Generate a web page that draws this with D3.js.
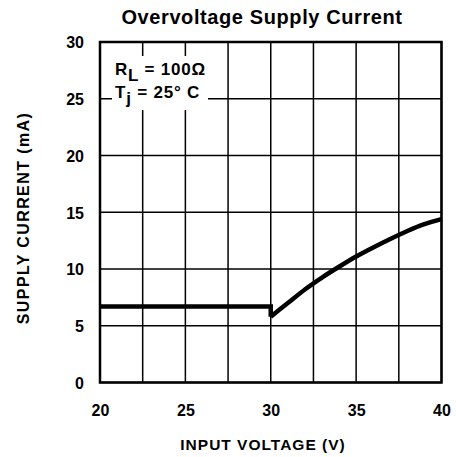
<!DOCTYPE html>
<html>
<head>
<meta charset="utf-8">
<script src="https://cdn.jsdelivr.net/npm/d3@7"></script>
<style>
  html, body { margin: 0; padding: 0; background: #fff; }
  svg { display: block; }
  text { font-family: "Liberation Sans", Arial, Helvetica, sans-serif; font-weight: bold; fill: #000; }
</style>
</head>
<body>
<script>
// ---- data ----
const titleText = "Overvoltage Supply Current";
const xLabel = "INPUT VOLTAGE (V)";
const yLabel = "SUPPLY CURRENT (mA)";
const xTickLabels = [20, 25, 30, 35, 40];
const yTickLabels = [0, 5, 10, 15, 20, 25, 30];
const xGrid = [20, 22.5, 25, 27.5, 30, 32.5, 35, 37.5, 40];
const yGrid = [0, 5, 10, 15, 20, 25, 30];
// flat section, then drop at 30 V
const flatVoltage = [20, 30, 30];
const flatCurrent = [6.7, 6.7, 5.8];
// rising section above 30 V
const riseVoltage = [30, 31, 32, 33, 34, 35, 36, 37, 38, 39, 40];
const riseCurrent = [5.8, 7.0, 8.2, 9.25, 10.2, 11.1, 11.9, 12.65, 13.35, 13.95, 14.4];

// ---- layout ----
const W = 456, H = 457;
const m = { left: 100, right: 14.5, top: 42, bottom: 74.5 };
const iw = W - m.left - m.right, ih = H - m.top - m.bottom;

const svg = d3.select("body").append("svg").attr("width", W).attr("height", H);
const g = svg.append("g").attr("transform", `translate(${m.left},${m.top})`);

const x = d3.scaleLinear().domain([20, 40]).range([0, iw]);
const y = d3.scaleLinear().domain([0, 30]).range([ih, 0]);

// grid
g.append("g").selectAll("line").data(xGrid).join("line")
  .attr("x1", d => x(d)).attr("x2", d => x(d)).attr("y1", 0).attr("y2", ih)
  .attr("stroke", "#000").attr("stroke-width", 1.5);
g.append("g").selectAll("line").data(yGrid).join("line")
  .attr("y1", d => y(d)).attr("y2", d => y(d)).attr("x1", 0).attr("x2", iw)
  .attr("stroke", "#000").attr("stroke-width", 1.5);

// annotation background (breaks grid)
g.append("rect").attr("x", 12).attr("y", 14).attr("width", 96).attr("height", 54).attr("fill", "#fff");

// frame
g.append("rect").attr("x", 0).attr("y", 0).attr("width", iw).attr("height", ih)
  .attr("fill", "none").attr("stroke", "#000").attr("stroke-width", 2.5);

// curve
const flatLine = d3.line().x((d, i) => x(flatVoltage[i])).y(d => y(d)).curve(d3.curveLinear);
g.append("path").datum(flatCurrent).attr("d", flatLine)
  .attr("fill", "none").attr("stroke", "#000").attr("stroke-width", 4.5)
  .attr("stroke-linejoin", "miter");
const riseLine = d3.line().x((d, i) => x(riseVoltage[i])).y(d => y(d)).curve(d3.curveMonotoneX);
g.append("path").datum(riseCurrent).attr("d", riseLine)
  .attr("fill", "none").attr("stroke", "#000").attr("stroke-width", 4.5)
  .attr("stroke-linecap", "butt");

// axes labels
const xAxis = d3.axisBottom(x).tickValues(xTickLabels).tickSize(0).tickPadding(0).tickFormat(d3.format("d"));
const xa = g.append("g").attr("transform", `translate(0,${ih})`).call(xAxis);
xa.select(".domain").remove();
xa.selectAll("text").attr("font-size", 16).attr("y", 33).attr("dy", 0)
  .style("font-family", '"Liberation Sans", Arial, sans-serif').style("font-weight", "bold");

const yAxis = d3.axisLeft(y).tickValues(yTickLabels).tickSize(0).tickPadding(0).tickFormat(d3.format("d"));
const ya = g.append("g").call(yAxis);
ya.select(".domain").remove();
ya.selectAll("text").attr("font-size", 16).attr("x", -16).attr("dy", "0.36em")
  .style("font-family", '"Liberation Sans", Arial, sans-serif').style("font-weight", "bold");

// title
svg.append("text").attr("x", 262).attr("y", 24).attr("text-anchor", "middle")
  .attr("font-size", 20).attr("letter-spacing", 0.6).text(titleText);

// axis titles
svg.append("text").attr("x", 263).attr("y", 450).attr("text-anchor", "middle")
  .attr("font-size", 15.5).attr("letter-spacing", 1).text(xLabel);
svg.append("text").attr("transform", "translate(29,218) rotate(-90)").attr("text-anchor", "middle")
  .attr("font-size", 16).attr("letter-spacing", 1.4).text(yLabel);

// annotation
const a1 = svg.append("text").attr("x", 115).attr("y", 75).attr("font-size", 17).attr("letter-spacing", 0.8);
a1.append("tspan").text("R");
a1.append("tspan").attr("dy", 6).text("L");
a1.append("tspan").attr("dy", -6).text(" = 100Ω");
const a2 = svg.append("text").attr("x", 115).attr("y", 98).attr("font-size", 17).attr("letter-spacing", 0.8);
a2.append("tspan").text("T");
a2.append("tspan").attr("dy", 6).text("j");
a2.append("tspan").attr("dy", -6).text(" = 25° C");
</script>
</body>
</html>
